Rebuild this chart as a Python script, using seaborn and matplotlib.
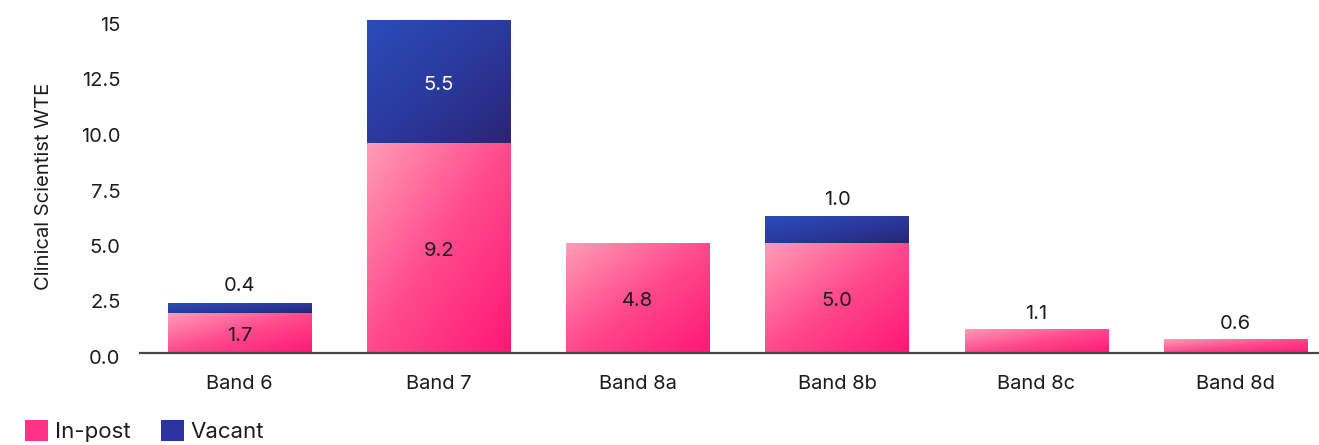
import numpy as np
import pandas as pd
import matplotlib
matplotlib.use("Agg")
import matplotlib.pyplot as plt
import seaborn as sns
from matplotlib.colors import LinearSegmentedColormap
from matplotlib.patches import Patch
from matplotlib.transforms import ScaledTranslation

# ---- data ----
bands = ["Band 6", "Band 7", "Band 8a", "Band 8b", "Band 8c", "Band 8d"]
in_post = [1.8, 9.45, 4.95, 4.95, 1.08, 0.63]        # drawn heights
vacant = [0.45, 5.55, 0.0, 1.2, 0.0, 0.0]            # drawn heights
in_post_labels = ["1.7", "9.2", "4.8", "5.0", "1.1", "0.6"]
vacant_labels = ["0.4", "5.5", "", "1.0", "", ""]
yticks = [0, 2.5, 5.0, 7.5, 10.0, 12.5, 15]
ytick_labels = ["0.0", "2.5", "5.0", "7.5", "10.0", "12.5", "15"]
series_names = ["In-post", "Vacant"]

# ---- style ----
sns.set_theme(style="white")
plt.rcParams["font.family"] = ["Inter", "DejaVu Sans"]
TXT = "#1c1c1c"

pink_cmap = LinearSegmentedColormap.from_list("pink", ["#FF9CB6", "#FF4A8C", "#FF1775"])
blue_cmap = LinearSegmentedColormap.from_list("blue", ["#2A4DB9", "#2A3A9E", "#2A2476"])

fig = plt.figure(figsize=(13.19, 4.45), dpi=100)
ax = fig.add_axes([140 / 1319, 1 - 353 / 445, 1 - 140 / 1319, (353 - 20) / 445])

df = pd.DataFrame({"band": bands, "in_post": in_post, "vacant": vacant})
sns.barplot(data=df, x="band", y="in_post", color="#FF3385", width=0.72,
            ax=ax, linewidth=0, saturation=1)
n_first = len(ax.patches)
sns.barplot(data=df, x="band", y="vacant", color="#2A35A0", width=0.72,
            bottom=df["in_post"].values, ax=ax, linewidth=0, saturation=1)

xlim = (-0.5, 5.42)
ylim = (0, 15)

# gradient fills
N = 200
u = np.linspace(0, 1, N)
vdown = np.linspace(0, 1, N)
U, V = np.meshgrid(u, vdown)
T = (U + V) / 2
for i, p in enumerate(ax.patches):
    h = p.get_height()
    if h <= 0:
        continue
    cmap = pink_cmap if i < n_first else blue_cmap
    x0, y0 = p.get_x(), p.get_y()
    x1, y1 = x0 + p.get_width(), y0 + h
    p.set_facecolor("none")
    im = ax.imshow(T, cmap=cmap, vmin=0, vmax=1, extent=[x0, x1, y0, y1],
                   aspect="auto", origin="upper", interpolation="bilinear", zorder=2)
    im.set_clip_path(p)

ax.set_xlim(*xlim)
ax.set_ylim(*ylim)
ax.set_aspect("auto")

# value labels
fs = 14.5
down = ScaledTranslation(0, -0.03, fig.dpi_scale_trans)
for i in range(len(bands)):
    ip, va = in_post[i], vacant[i]
    top = ip + va
    # in-post
    if ip >= 1.5:
        ax.text(i, ip / 2, in_post_labels[i], ha="center", va="center",
                fontsize=fs, color=TXT, zorder=5, transform=ax.transData + down)
    else:
        ax.annotate(in_post_labels[i], (i, top), xytext=(0, 11), textcoords="offset points",
                    ha="center", va="center", fontsize=fs, color=TXT, zorder=5)
    if va > 0:
        if va >= 1.5:
            ax.text(i, ip + va / 2, vacant_labels[i], ha="center", va="center",
                    fontsize=fs, color="white", zorder=5, transform=ax.transData + down)
        else:
            ax.annotate(vacant_labels[i], (i, top), xytext=(0, 12), textcoords="offset points",
                        ha="center", va="center", fontsize=fs, color=TXT, zorder=5)

# axes styling
sns.despine(ax=ax, left=True, top=True, right=True, bottom=False)
ax.spines["bottom"].set_color("#444444")
ax.spines["bottom"].set_linewidth(1.6)
ax.spines["bottom"].set_zorder(6)
ax.set_yticks(yticks)
ax.set_yticklabels(ytick_labels)
ax.tick_params(axis="y", length=0, pad=14, labelsize=14.5, labelcolor=TXT)
ax.tick_params(axis="x", length=0, pad=16, labelsize=14.5, labelcolor=TXT)
for lab in ax.get_yticklabels():
    lab.set_transform(lab.get_transform() + ScaledTranslation(0, -0.04, fig.dpi_scale_trans))
ax.set_xlabel("")
ax.set_ylabel("Clinical Scientist WTE", fontsize=14.5, color=TXT, labelpad=20)
ax.grid(False)

handles = [Patch(facecolor="#FF3385", edgecolor="none"),
           Patch(facecolor="#2A35A0", edgecolor="none")]
fig.legend(handles, series_names, loc="center left",
           bbox_to_anchor=(25 / 1319, 1 - 431 / 445), frameon=False,
           fontsize=16, handlelength=1.05, handleheight=1.05, handletextpad=0.3,
           columnspacing=1.35, ncol=2, borderpad=0, borderaxespad=0, labelcolor=TXT)

fig.savefig("out.png", dpi=100, facecolor="white")
